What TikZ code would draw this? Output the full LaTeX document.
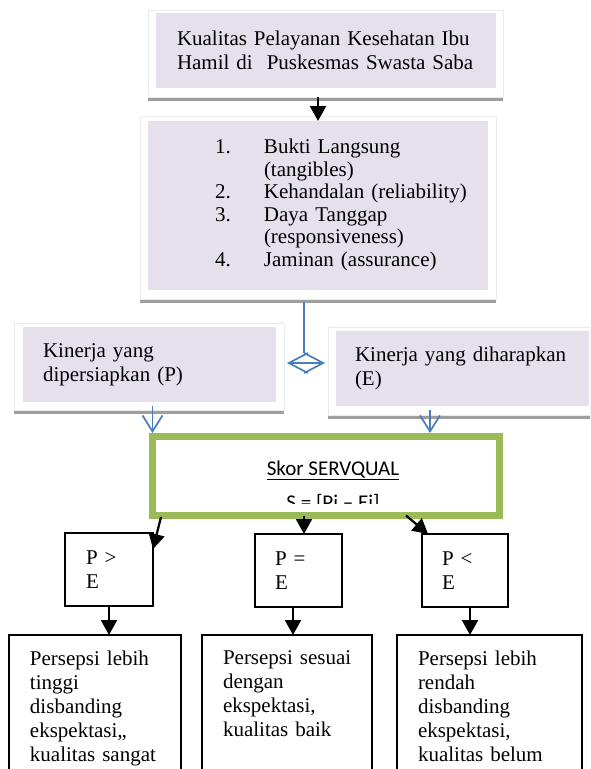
\documentclass[tikz,border=0pt]{standalone}
\usepackage{fontspec}
\setmainfont{Liberation Serif}
\newfontfamily\calibri{Carlito}
\usepackage{xcolor}
\definecolor{servlav}{RGB}{229,224,236}
\definecolor{servblue}{RGB}{74,126,187}
\definecolor{servgreen}{RGB}{155,187,89}
\definecolor{servshadow}{RGB}{158,158,158}
\usepackage{tikz}
\usetikzlibrary{positioning,arrows.meta,shadows}
\setlength{\parindent}{0pt}

\tikzset{
  shadowframe/.style={fill=white,draw=black!8,line width=0.4pt,inner sep=0pt,outer sep=0pt,anchor=north west,
    drop shadow={shadow xshift=0pt,shadow yshift=-4pt,opacity=1,fill=servshadow}},
  lavbox/.style={fill=servlav,inner ysep=0pt,outer sep=0pt,anchor=north west,align=left,
    font=\fontsize{21}{24}\selectfont},
  pcase/.style={draw,line width=1.5pt,inner ysep=0pt,outer sep=0pt,anchor=north west,align=left,
    minimum height=73pt,font=\fontsize{21}{24.5}\selectfont},
  outcome/.style={draw,line width=1.5pt,inner ysep=15.7pt,outer sep=0pt,anchor=north west,align=left,
    text depth=140pt,font=\fontsize{21}{24}\selectfont},
  blackarrow/.style={line width=2.2pt,-{Triangle[length=15pt,width=16pt]}},
  blueline/.style={servblue,line width=1.7pt},
  bluearrow/.style={blueline,-{Straight Barb[length=16pt,width=20pt]}}
}

\begin{document}
\begin{tikzpicture}[x=1pt,y=-1pt]
\useasboundingbox (0,0) rectangle (590,769);
\clip (0,0) rectangle (590,769);

% dimensions of service quality
\node[shadowframe,minimum width=355pt,minimum height=87pt] (kualitasframe) at (148,10) {};
\node[lavbox,inner xsep=21pt,text width=298pt,minimum height=75pt] (kualitas) at (156,13)
  {Kualitas Pelayanan Kesehatan Ibu\\Hamil di~ Puskesmas Swasta Saba};

\node[shadowframe,minimum width=356pt,minimum height=183pt] (dimensiframe) at (140,116) {};
\node[lavbox,inner xsep=0pt,text width=340pt,minimum height=169pt,font=\fontsize{21}{22.6}\selectfont] (dimensi) at (148,121)
  {\hspace*{67pt}\begin{tabular}{@{}p{49pt}@{}l@{}}
    1.&Bukti Langsung\\
      &(tangibles)\\
    2.&Kehandalan (reliability)\\
    3.&Daya Tanggap\\
      &(responsiveness)\\
    4.&Jaminan (assurance)
  \end{tabular}};

% performance vs expectation
\node[shadowframe,minimum width=270pt,minimum height=87pt] (kinerjaPframe) at (14,323) {};
\node[lavbox,inner xsep=20pt,text width=213pt,minimum height=75pt] (kinerjaP) at (23,327)
  {Kinerja yang\\dipersiapkan (P)};
\node[shadowframe,minimum width=270pt,minimum height=88pt] (kinerjaEframe) at (328,327) {};
\node[lavbox,inner xsep=19pt,text width=215pt,minimum height=75pt] (kinerjaE) at (336,331)
  {Kinerja yang diharapkan\\(E)};

% servqual score
\node[draw=servgreen,line width=7pt,minimum width=347pt,minimum height=79pt,inner sep=0pt,outer sep=0pt,
      anchor=north west] (skor) at (152.5,436.5) {};
\node[font=\calibri\fontsize{21}{24}\selectfont,anchor=base,inner sep=0pt] (skorjudul) at (333,475)
  {\underline{Skor SERVQUAL}};
\begin{scope}
  \clip (skor.north west) rectangle ([yshift=12.5pt]skor.south east);
  \node[font=\calibri\fontsize{21}{24}\selectfont,anchor=base,inner sep=0pt] (skorrumus) at (333,509)
    {S = [Pi – Ei]};
\end{scope}

% three cases
\node[pcase,inner xsep=21pt,text width=46pt] (pgt) at (65,533) {P >\\E};
\node[pcase,inner xsep=20pt,text width=47pt] (peq) at (255,534) {P =\\E};
\node[pcase,inner xsep=20pt,text width=46pt] (plt) at (422,534) {P <\\E};

\node[outcome,inner xsep=21pt,text width=130pt] (tinggi) at (9,635)
  {Persepsi~lebih\\tinggi\\disbanding\\ekspektasi,,\\kualitas~sangat};
\node[outcome,inner xsep=21pt,text width=128pt] (sesuai) at (202,635)
  {Persepsi~sesuai\\dengan\\ekspektasi,\\kualitas~baik};
\node[outcome,inner xsep=21pt,text width=143pt] (rendah) at (397,635)
  {Persepsi~lebih\\rendah\\disbanding\\ekspektasi,\\kualitas~belum};

% connectors
\draw[blackarrow] ([xshift=-7.5pt]kualitasframe.south) -- ([xshift=-7.5pt]kualitasframe.south |- dimensi.north);

\coordinate (splitTop) at (304,353);
\coordinate (splitL) at (287,363);
\coordinate (splitR) at (325,363);
\draw[blueline] ([yshift=-3pt]dimensiframe.south -| splitTop) -- (splitTop);
\draw[blueline,{Straight Barb[length=19pt,width=20pt]}-{Straight Barb[length=19pt,width=20pt]}] (splitL) -- (splitR);

\draw[bluearrow] ([yshift=-4pt]kinerjaP.south -| skor.north west) -- ([yshift=3.5pt]skor.north west);
\draw[bluearrow] ([xshift=-32.5pt,yshift=-4pt]kinerjaE.south) -- ([xshift=-32.5pt,yshift=3.5pt]kinerjaE.south |- skor.north);

\draw[blackarrow] ([xshift=8.5pt,yshift=-1.5pt]skor.south west) -- ([yshift=-16pt]pgt.north east);
\draw[blackarrow] ([xshift=5.5pt]peq.north |- skor.south) -- ([xshift=5.5pt]peq.north);
\draw[blackarrow] ([xshift=253.5pt]skor.south west) -- ([xshift=6pt]plt.north west);

\draw[blackarrow] (pgt.south) -- (pgt.south |- tinggi.north);
\draw[blackarrow] ([xshift=-5.5pt]peq.south) -- ([xshift=-5.5pt]peq.south |- sesuai.north);
\draw[blackarrow] ([xshift=5pt]plt.south) -- ([xshift=5pt]plt.south |- rendah.north);
\end{tikzpicture}
\end{document}
